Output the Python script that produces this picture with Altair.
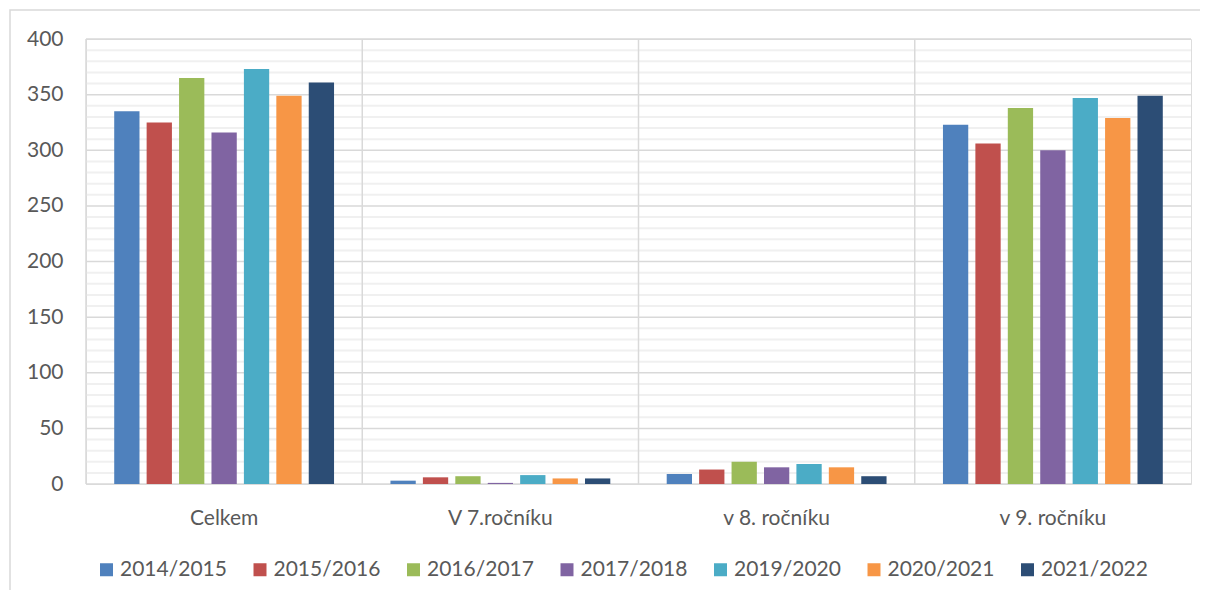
import altair as alt
import pandas as pd

categories = ["Celkem", "V 7.ročníku", "v 8. ročníku", "v 9. ročníku"]
years = ["2014/2015", "2015/2016", "2016/2017", "2017/2018", "2019/2020", "2020/2021", "2021/2022"]
colors = ["#4F81BD", "#C0504D", "#9BBB59", "#8064A2", "#4BACC6", "#F79646", "#2C4D75"]

v_2014_2015 = [335, 3, 9, 323]
v_2015_2016 = [325, 6, 13, 306]
v_2016_2017 = [365, 7, 20, 338]
v_2017_2018 = [316, 1, 15, 300]
v_2019_2020 = [373, 8, 18, 347]
v_2020_2021 = [349, 5, 15, 329]
v_2021_2022 = [361, 5, 7, 349]

series = [v_2014_2015, v_2015_2016, v_2016_2017, v_2017_2018, v_2019_2020, v_2020_2021, v_2021_2022]
major_ticks = list(range(0, 401, 50))
minor_ticks = [t for t in range(0, 401, 10) if t % 50 != 0]

rows = []
for yr, vals in zip(years, series):
    for c, v in zip(categories, vals):
        rows.append({"cat": c, "year": yr, "value": v})
df = pd.DataFrame(rows)
sep_df = pd.DataFrame({"cat": categories})
major_df = pd.DataFrame({"value": major_ticks})
minor_df = pd.DataFrame({"value": minor_ticks})

FONT = "Lato"
TXT = "#595959"

x_axis = alt.Axis(title=None, labelAngle=0, labelAlign="center", ticks=False, domain=False, grid=False,
                  labelPadding=23, labelFontSize=21, labelColor=TXT, labelFont=FONT)
x_scale = alt.Scale(paddingInner=0, paddingOuter=0)
y_axis = alt.Axis(title=None, values=major_ticks, ticks=False, domain=False, grid=False,
                  labelOverlap=False, labelPadding=23, labelFontSize=21, labelColor=TXT, labelFont=FONT)
y_scale = alt.Scale(domain=[0, 400], nice=False)

bars = alt.Chart(df).mark_bar().encode(
    x=alt.X("cat:N", sort=categories, scale=x_scale, axis=x_axis),
    xOffset=alt.XOffset("year:N", sort=years,
                        scale=alt.Scale(paddingInner=0.22, paddingOuter=0.87)),
    y=alt.Y("value:Q", scale=y_scale, axis=y_axis),
    color=alt.Color("year:N", sort=years, scale=alt.Scale(domain=years, range=colors),
                    legend=alt.Legend(title=None, orient="none", legendX=10, legendY=520,
                                      direction="horizontal", columns=7, columnPadding=22.5,
                                      symbolType="square", symbolSize=169, symbolStrokeWidth=0,
                                      labelFontSize=21, labelColor=TXT, labelFont=FONT,
                                      labelOffset=3, padding=0)),
)

minor = alt.Chart(minor_df).mark_rule(color="#f0f0f0", strokeWidth=2).encode(
    y=alt.Y("value:Q", scale=y_scale, axis=y_axis),
)
major = alt.Chart(major_df).mark_rule(color="#d9d9d9", strokeWidth=1.5).encode(
    y=alt.Y("value:Q", scale=y_scale, axis=y_axis),
)

seps = alt.Chart(sep_df).mark_rule(color="#d9d9d9", strokeWidth=1.5).encode(
    x=alt.X("cat:N", sort=categories, scale=x_scale, axis=x_axis, bandPosition=0),
    y=alt.datum(400),
    y2=alt.datum(0),
)

frame = alt.Chart(pd.DataFrame({"a": [0]})).mark_rect(
    fillOpacity=0, stroke="#d9d9d9", strokeWidth=1.5
).encode(
    x=alt.value(-76), x2=alt.value(1300), y=alt.value(-29), y2=alt.value(700)
)

chart = alt.layer(frame, minor, major, seps, bars).properties(
    width=1105, height=445,
    autosize=alt.AutoSizeParams(type="none"),
    padding={"left": 78, "top": 31, "right": 9, "bottom": 106},
).configure_view(stroke="#d9d9d9", strokeWidth=1.5).configure(font=FONT)

chart.save("out.html", embed_options={"renderer": "svg", "actions": False})
